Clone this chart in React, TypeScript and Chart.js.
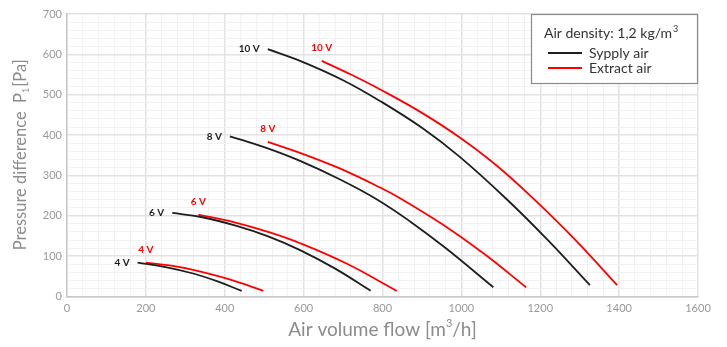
import React, { useEffect, useRef } from 'react';
import { Chart, registerables } from 'chart.js';

Chart.register(...registerables);

// ---- data ----
const voltageLabels = ['10 V', '8 V', '6 V', '4 V'];
const seriesNames = ['Sypply air', 'Extract air'];
const densityText = 'Air density: 1,2 kg/m';

const supply10V = [[509, 613], [591, 584], [700, 536], [798, 482], [900, 418], [996, 346], [1115, 241], [1220, 139], [1326, 28]];
const supply8V = [[413, 397], [500, 370], [591, 336], [690, 291], [785, 241], [870, 186], [960, 120], [1081, 23]];
const supply6V = [[267, 207], [340, 197], [430, 175], [510, 149], [591, 115], [680, 69], [770, 14]];
const supply4V = [[179, 84], [250, 73], [320, 57], [380, 38], [443, 14]];

const extract10V = [[646, 584], [720, 550], [798, 511], [900, 455], [996, 394], [1090, 324], [1182, 243], [1290, 139], [1395, 28]];
const extract8V = [[509, 383], [591, 356], [690, 318], [794, 270], [849, 241], [950, 180], [1060, 104], [1164, 23]];
const extract6V = [[333, 203], [420, 185], [510, 160], [591, 132], [710, 81], [836, 14]];
const extract4V = [[200, 84], [260, 77], [320, 66], [410, 43], [498, 14]];

const xMax = 1600;
const xMajorStep = 200;
const xMinorStep = 40;
const yMax = 700;
const yMajorStep = 100;
const yMinorStep = 20;

const BLACK = '#1e1e1e';
const RED = '#ff0000';
const FONT = 'Lato, "Open Sans", sans-serif';

const toPts = (arr: number[][]) => arr.map(([x, y]) => ({ x, y }));

const overlayPlugin = {
  id: 'overlay',
  afterDatasetsDraw(chart: any) {
    const ctx = chart.ctx as CanvasRenderingContext2D;
    const area = chart.chartArea;
    ctx.save();
    // curve labels
    chart.data.datasets.forEach((ds: any, i: number) => {
      const meta = chart.getDatasetMeta(i);
      const p = meta.data[0];
      if (!p) return;
      ctx.font = `bold 10px ${FONT}`;
      ctx.fillStyle = ds.borderColor;
      ctx.textBaseline = 'middle';
      if (ds.group === 0) {
        ctx.textAlign = 'right';
        ctx.fillText(ds.vlabel, p.x - 8, p.y);
      } else {
        ctx.textAlign = 'center';
        ctx.fillText(ds.vlabel, p.x, p.y - 13);
      }
    });

    // legend box
    const bw = 167, bh = 70;
    const bx = area.right - bw, by = area.top;
    ctx.fillStyle = '#ffffff';
    ctx.fillRect(bx, by, bw, bh);
    ctx.strokeStyle = '#8a8a8a';
    ctx.lineWidth = 1.2;
    ctx.strokeRect(bx + 0.5, by + 0.5, bw - 1, bh - 1);
    ctx.fillStyle = '#333';
    ctx.textAlign = 'left';
    ctx.textBaseline = 'middle';
    ctx.font = `14px ${FONT}`;
    const tx = bx + 13;
    ctx.fillText(densityText, tx, by + 19);
    const w1 = ctx.measureText(densityText).width;
    ctx.font = `9px ${FONT}`;
    ctx.fillText('3', tx + w1 + 1, by + 15);
    const colors = [BLACK, RED];
    seriesNames.forEach((n, k) => {
      const ly = by + 39 + k * 15;
      ctx.strokeStyle = colors[k];
      ctx.lineWidth = 2;
      ctx.beginPath();
      ctx.moveTo(bx + 17, ly);
      ctx.lineTo(bx + 51, ly);
      ctx.stroke();
      ctx.fillStyle = '#333';
      ctx.font = `14px ${FONT}`;
      ctx.fillText(n, bx + 58, ly);
    });

    // axis titles
    ctx.fillStyle = '#8c8c8c';
    // x title
    const xParts = [
      { t: 'Air volume flow [m', s: 19, dy: 0 },
      { t: '3', s: 11, dy: -7 },
      { t: '/h]', s: 19, dy: 0 },
    ];
    let tw = 0;
    xParts.forEach((pp) => { ctx.font = `${pp.s}px ${FONT}`; tw += ctx.measureText(pp.t).width; });
    let cx = (area.left + area.right) / 2 - tw / 2;
    const cy = 330;
    xParts.forEach((pp) => {
      ctx.font = `${pp.s}px ${FONT}`;
      ctx.fillText(pp.t, cx, cy + pp.dy);
      cx += ctx.measureText(pp.t).width;
    });
    // y title
    ctx.translate(21, (area.top + area.bottom) / 2);
    ctx.rotate(-Math.PI / 2);
    const yParts = [
      { t: 'Pressure difference  P', s: 16.5, dy: 0 },
      { t: '1', s: 9, dy: 5 },
      { t: '[Pa]', s: 16.5, dy: 0 },
    ];
    tw = 0;
    yParts.forEach((pp) => { ctx.font = `${pp.s}px ${FONT}`; tw += ctx.measureText(pp.t).width; });
    cx = -tw / 2;
    yParts.forEach((pp) => {
      ctx.font = `${pp.s}px ${FONT}`;
      ctx.fillText(pp.t, cx, pp.dy);
      cx += ctx.measureText(pp.t).width + (pp.s < 12 ? 1 : 0);
    });
    ctx.restore();
  },
};

export default function App() {
  const ref = useRef<HTMLCanvasElement | null>(null);
  useEffect(() => {
    document.body.style.margin = '0';
    if (!ref.current) return;
    const supply = [supply10V, supply8V, supply6V, supply4V];
    const extract = [extract10V, extract8V, extract6V, extract4V];
    const datasets: any[] = [];
    supply.forEach((d, i) => datasets.push({
      label: `${seriesNames[0]} ${voltageLabels[i]}`, vlabel: voltageLabels[i], group: 0,
      data: toPts(d), borderColor: BLACK,
    }));
    extract.forEach((d, i) => datasets.push({
      label: `${seriesNames[1]} ${voltageLabels[i]}`, vlabel: voltageLabels[i], group: 1,
      data: toPts(d), borderColor: RED,
    }));
    datasets.forEach((ds) => {
      ds.borderWidth = 1.8;
      ds.pointRadius = 0;
      ds.fill = false;
      ds.tension = 0.4;
      ds.cubicInterpolationMode = 'default';
      ds.backgroundColor = ds.borderColor;
    });
    const chart = new Chart(ref.current, {
      type: 'line',
      data: { datasets },
      options: {
        animation: false,
        responsive: true,
        maintainAspectRatio: false,
        layout: { padding: { top: 14, right: 29, left: 0, bottom: 0 } },
        plugins: { legend: { display: false }, tooltip: { enabled: false } },
        scales: {
          x: {
            type: 'linear',
            min: 0, max: xMax,
            afterFit: (s: any) => { s.height = 50.5; },
            ticks: {
              stepSize: xMinorStep, autoSkip: false, maxRotation: 0, padding: 5,
              color: '#999', font: { family: FONT, size: 11 },
              callback: (v: any) => (Number(v) % xMajorStep === 0 ? String(v) : ''),
            },
            grid: {
              drawTicks: false,
              color: (c: any) => (c.tick && c.tick.value % xMajorStep === 0 ? '#e2e2e2' : '#f1f1f1'),
              lineWidth: (c: any) => (c.tick && c.tick.value % xMajorStep === 0 ? 1.5 : 1),
            },
            border: { color: '#c8c8c8', width: 1.5 },
          },
          y: {
            type: 'linear',
            min: 0, max: yMax,
            afterFit: (s: any) => { s.width = 67; },
            ticks: {
              stepSize: yMinorStep, autoSkip: false, padding: 5,
              color: '#999', font: { family: FONT, size: 11 },
              callback: (v: any) => (Number(v) % yMajorStep === 0 ? String(v) : ''),
            },
            grid: {
              drawTicks: false,
              color: (c: any) => (c.tick && c.tick.value % yMajorStep === 0 ? '#e2e2e2' : '#f1f1f1'),
              lineWidth: (c: any) => (c.tick && c.tick.value % yMajorStep === 0 ? 1.5 : 1),
            },
            border: { color: '#c8c8c8', width: 1.5 },
          },
        },
      },
      plugins: [overlayPlugin],
    });
    return () => chart.destroy();
  }, []);
  return (
    <div style={{ width: 727, height: 347, position: 'relative' }}>
      <canvas ref={ref} />
    </div>
  );
}
